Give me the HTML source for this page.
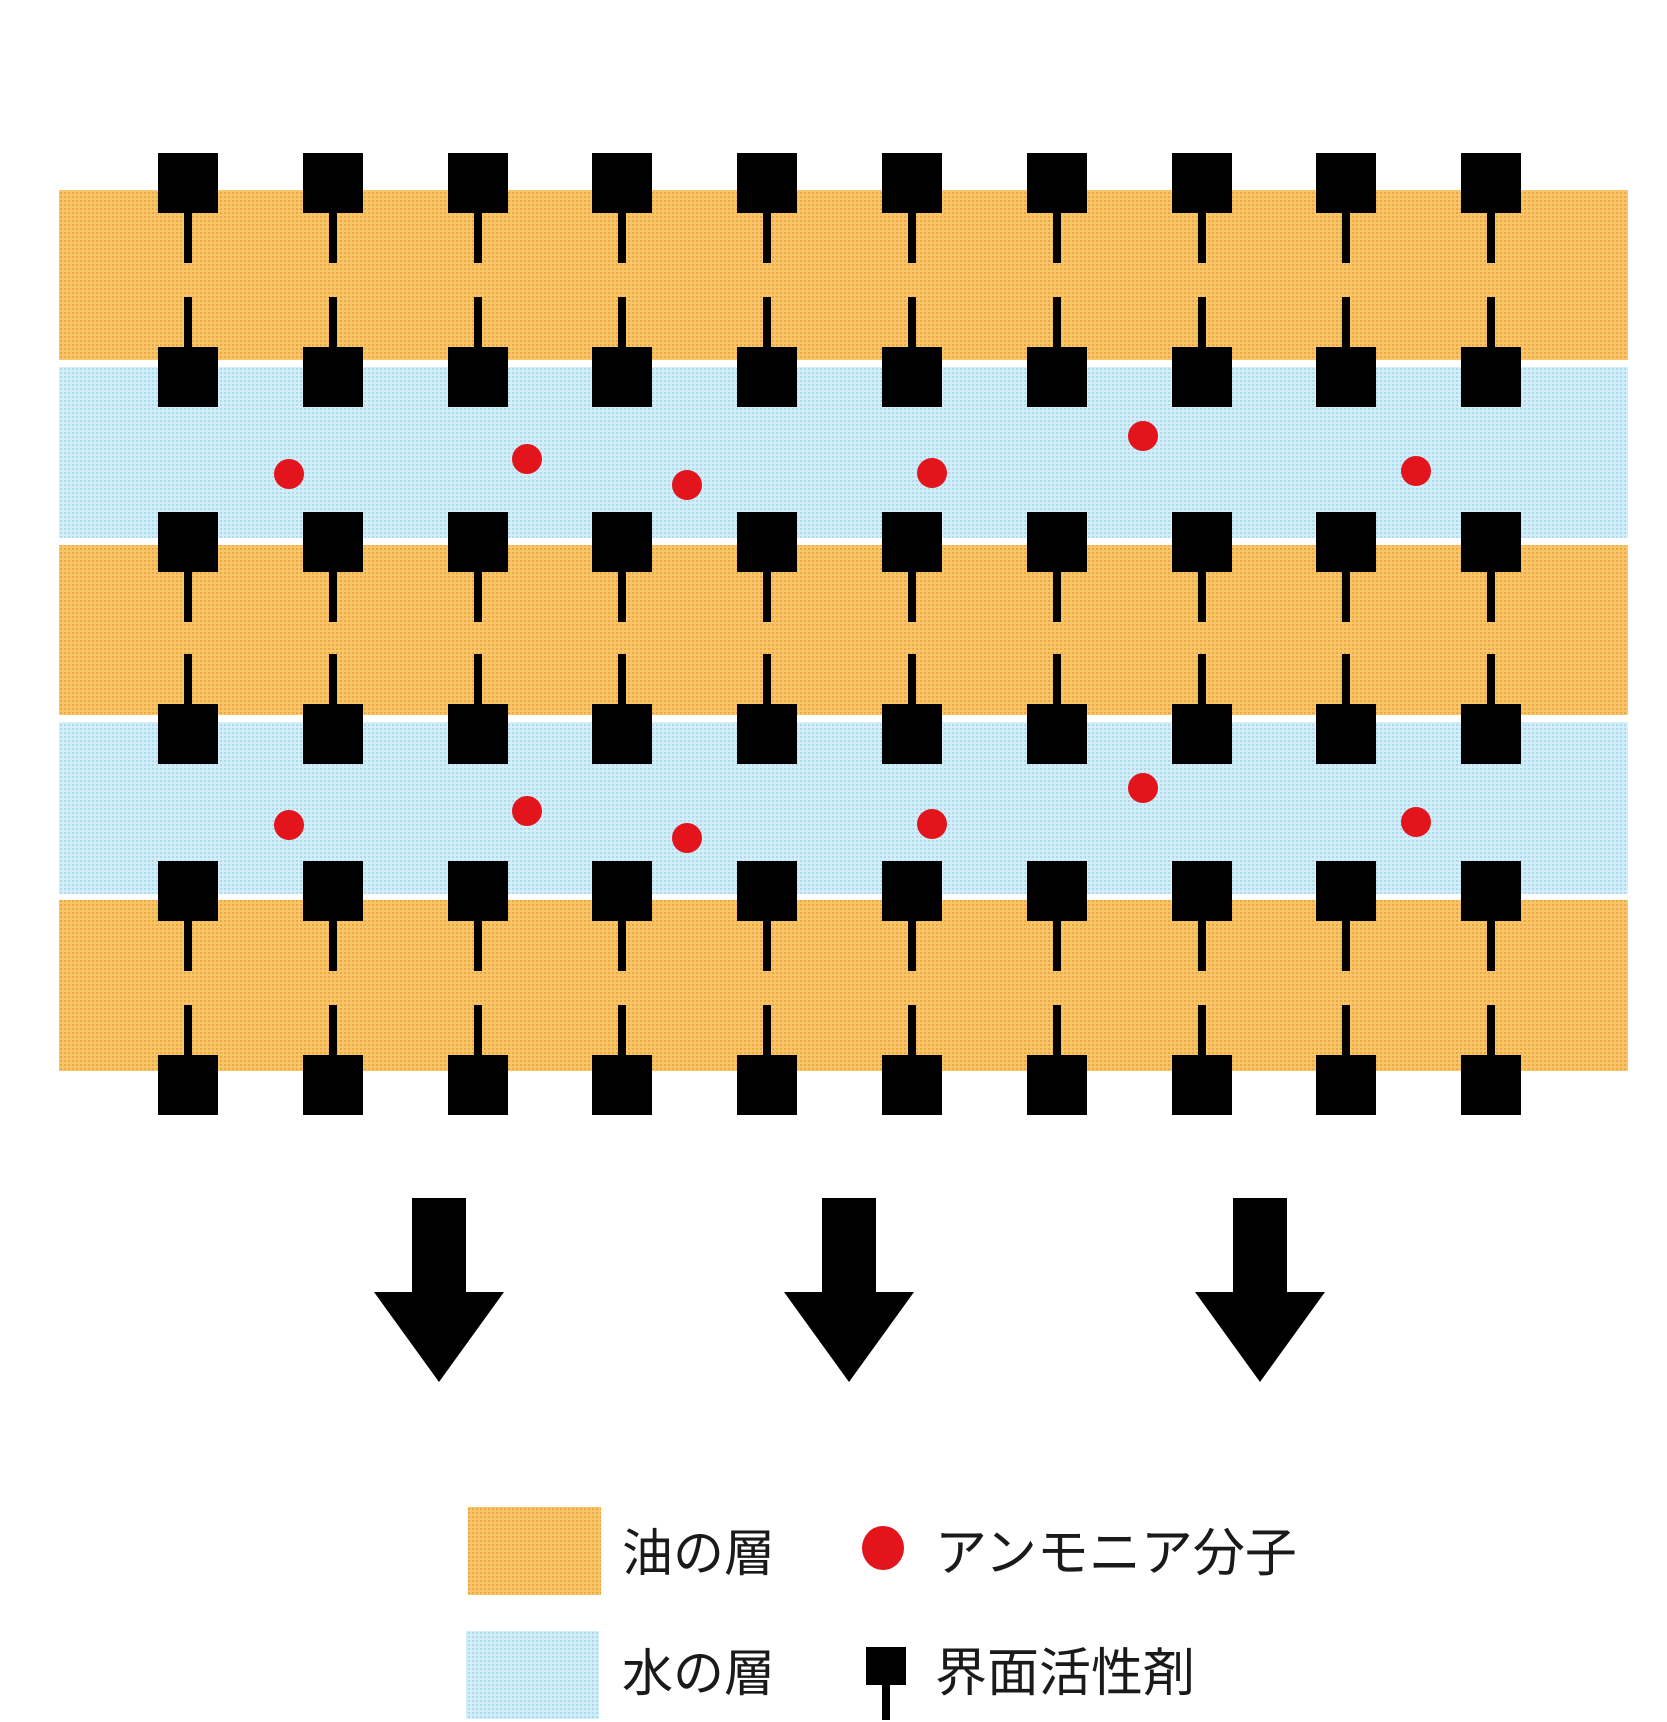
<!DOCTYPE html>
<html><head><meta charset="utf-8"><style>
html,body{margin:0;padding:0;background:#fff;}
svg{display:block}
text{font-family:"Liberation Sans","Noto Sans CJK JP",sans-serif;fill:#1a1a1a;}
</style></head><body>
<svg width="1667" height="1722" viewBox="0 0 1667 1722" xmlns="http://www.w3.org/2000/svg">
<defs>
<pattern id="oil" width="4" height="4" patternUnits="userSpaceOnUse">
<rect width="4" height="4" fill="#f8c568"/><rect width="2" height="2" fill="#eea640"/>
</pattern>
<pattern id="wat" width="4" height="4" patternUnits="userSpaceOnUse">
<rect width="4" height="4" fill="#d3eef8"/><rect width="2" height="2" fill="#a9dbef"/>
</pattern>
<g id="col" fill="#000">
<rect x="158" y="153" width="60" height="60"/><rect x="184" y="213" width="8" height="50"/>
<rect x="184" y="297" width="8" height="50"/><rect x="158" y="347" width="60" height="60"/>
<rect x="158" y="512" width="60" height="60"/><rect x="184" y="572" width="8" height="50"/>
<rect x="184" y="654" width="8" height="50"/><rect x="158" y="704" width="60" height="60"/>
<rect x="158" y="861" width="60" height="60"/><rect x="184" y="921" width="8" height="50"/>
<rect x="184" y="1005" width="8" height="50"/><rect x="158" y="1055" width="60" height="60"/>
</g>
</defs>
<rect x="59" y="190" width="1569" height="170" fill="url(#oil)"/>
<rect x="59" y="367" width="1569" height="171" fill="url(#wat)"/>
<rect x="59" y="545" width="1569" height="170" fill="url(#oil)"/>
<rect x="59" y="722" width="1569" height="172" fill="url(#wat)"/>
<rect x="59" y="900" width="1569" height="171" fill="url(#oil)"/>
<use href="#col" x="0"/>
<use href="#col" x="145"/>
<use href="#col" x="290"/>
<use href="#col" x="434"/>
<use href="#col" x="579"/>
<use href="#col" x="724"/>
<use href="#col" x="869"/>
<use href="#col" x="1014"/>
<use href="#col" x="1158"/>
<use href="#col" x="1303"/>
<g fill="#e3141b">
<circle cx="289" cy="474" r="15"/><circle cx="527" cy="459" r="15"/><circle cx="687" cy="485" r="15"/><circle cx="932" cy="473" r="15"/><circle cx="1143" cy="436" r="15"/><circle cx="1416" cy="471" r="15"/>
<circle cx="289" cy="825" r="15"/><circle cx="527" cy="811" r="15"/><circle cx="687" cy="838" r="15"/><circle cx="932" cy="824" r="15"/><circle cx="1143" cy="788" r="15"/><circle cx="1416" cy="822" r="15"/>
</g>
<g fill="#000">
<polygon points="412,1198 466,1198 466,1292 504,1292 439,1382 374,1292 412,1292"/>
<polygon points="822,1198 876,1198 876,1292 914,1292 849,1382 784,1292 822,1292"/>
<polygon points="1233,1198 1287,1198 1287,1292 1325,1292 1260,1382 1195,1292 1233,1292"/>
</g>
<rect x="468" y="1507" width="133" height="88" fill="url(#oil)"/>
<rect x="466" y="1631" width="133" height="88" fill="url(#wat)"/>
<text x="622" y="1571" font-size="51">油の層</text>
<text x="622" y="1691" font-size="51">水の層</text>
<ellipse cx="883" cy="1548" rx="21" ry="22" fill="#e3141b"/>
<text x="935" y="1571" font-size="52">アンモニア分子</text>
<rect x="866" y="1647" width="40" height="38" fill="#000"/>
<rect x="882" y="1685" width="8" height="35" fill="#000"/>
<text x="935" y="1691" font-size="52">界面活性剤</text>
</svg>
</body></html>
